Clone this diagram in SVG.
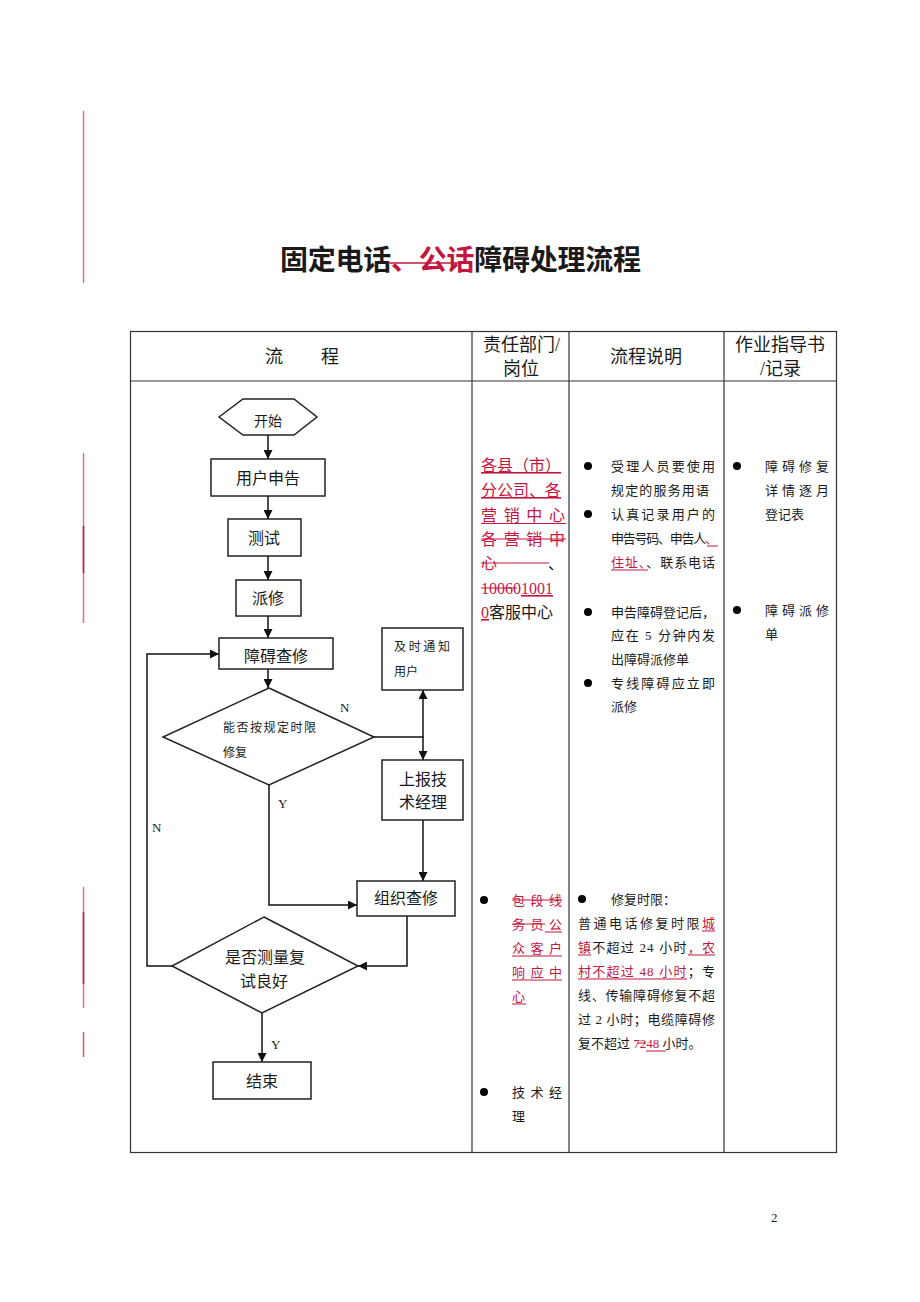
<svg xmlns="http://www.w3.org/2000/svg" width="920" height="1302" viewBox="0 0 920 1302">
<style>
text{font-family:"Liberation Serif","Noto Sans CJK SC",serif;fill:#1a1a1a}
.t{font-family:"Noto Sans CJK SC",sans-serif;font-weight:bold;font-size:28px}
.h{font-size:18px}
.f16{font-size:16px}
.f13{font-size:13px}
.f12{font-size:12px}
.red{fill:#c3173f}
.u{text-decoration:underline}
.box{fill:#fff;stroke:#222;stroke-width:1.5}
.tbl{fill:none;stroke:#333;stroke-width:1.2}
.con{fill:none;stroke:#111;stroke-width:1.5}
.mk{stroke:#c3173f;stroke-width:1.5}
.rl{stroke:#c3173f;stroke-width:1}
</style>
<defs>
<marker id="ah" viewBox="0 0 10 10" refX="10" refY="5" markerWidth="9" markerHeight="9" markerUnits="userSpaceOnUse" orient="auto"><path d="M0,0 L10,5 L0,10 z" fill="#111"/></marker>
</defs>
<rect width="920" height="1302" fill="#fff"/>
<g id="margin-marks">
<line class="mk" x1="83.5" y1="111" x2="83.5" y2="283" stroke-opacity="0.6"/>
<line class="mk" x1="83.5" y1="453" x2="83.5" y2="623" stroke-opacity="0.6"/>
<line class="mk" x1="83.5" y1="526" x2="83.5" y2="573"/>
<line class="mk" x1="83.5" y1="887" x2="83.5" y2="1008" stroke-opacity="0.6"/>
<line class="mk" x1="83.5" y1="912" x2="83.5" y2="984"/>
<line class="mk" x1="83.5" y1="1032" x2="83.5" y2="1057" stroke-opacity="0.7"/>
</g>
<g id="title">
<text class="t" x="280" y="270" textLength="361" lengthAdjust="spacing">固定电话<tspan class="red">、公话</tspan>障碍处理流程</text>
<line x1="388" y1="263" x2="471" y2="263" stroke="#c3173f" stroke-width="1.5"/>
</g>
<g id="table">
<rect class="tbl" x="130.5" y="331.5" width="706" height="821"/>
<line class="tbl" x1="130" y1="381" x2="837" y2="381" stroke-width="2"/>
<line class="tbl" x1="472" y1="331" x2="472" y2="1153"/>
<line class="tbl" x1="569" y1="331" x2="569" y2="1153"/>
<line class="tbl" x1="724" y1="331" x2="724" y2="1153"/>
<text class="h" x="265" y="363">流</text>
<text class="h" x="321" y="363">程</text>
<text class="h" x="483" y="351">责任部门/</text>
<text class="h" x="503" y="375">岗位</text>
<text class="h" x="610" y="363">流程说明</text>
<text class="h" x="735" y="351">作业指导书</text>
<text class="h" x="760" y="375">/记录</text>
</g>
<g id="connectors">
<path class="con" marker-end="url(#ah)" d="M268,435 V459"/>
<path class="con" marker-end="url(#ah)" d="M268,496 V519"/>
<path class="con" marker-end="url(#ah)" d="M268,556 V580"/>
<path class="con" marker-end="url(#ah)" d="M268,616 V638"/>
<path class="con" marker-end="url(#ah)" d="M268,669 V688"/>
<path class="con" marker-end="url(#ah)" d="M374,737 H423 V760"/>
<path class="con" marker-end="url(#ah)" d="M423,737 V690"/>
<path class="con" marker-end="url(#ah)" d="M423,820 V881"/>
<path class="con" marker-end="url(#ah)" d="M269,785 V905 H357"/>
<path class="con" marker-end="url(#ah)" d="M407,916 V966 H358"/>
<path class="con" marker-end="url(#ah)" d="M172,966 H147 V654 H219"/>
<path class="con" marker-end="url(#ah)" d="M262,1013 V1062"/>
<text class="f13" x="340" y="712">N</text>
<text class="f13" x="278" y="808">Y</text>
<text class="f13" x="152" y="832">N</text>
<text class="f13" x="271" y="1049">Y</text>
</g>
<g id="start">
<polygon class="box" points="219,417 243,399 294,399 317,417 294,435 243,435"/>
<text x="268" y="426" text-anchor="middle" style="font-size:14px">开始</text>
</g>
<g id="report">
<rect class="box" x="211" y="459" width="114" height="37"/>
<text class="f16" x="268" y="484" text-anchor="middle">用户申告</text>
</g>
<g id="test">
<rect class="box" x="228" y="519" width="73" height="37"/>
<text class="f16" x="264" y="544" text-anchor="middle">测试</text>
</g>
<g id="dispatch">
<rect class="box" x="236" y="580" width="65" height="36"/>
<text class="f16" x="268" y="604" text-anchor="middle">派修</text>
</g>
<g id="check">
<rect class="box" x="219" y="638" width="114" height="31"/>
<text class="f16" x="276" y="662" text-anchor="middle">障碍查修</text>
</g>
<g id="decision1">
<polygon class="box" points="269,688 374,737 269,785 163,737"/>
<text class="f12" x="223" y="732" textLength="93" lengthAdjust="spacing">能否按规定时限</text>
<text class="f12" x="223" y="757">修复</text>
</g>
<g id="notify">
<rect class="box" x="382" y="628" width="81" height="62"/>
<text class="f12" x="394" y="651" textLength="56" lengthAdjust="spacing">及时通知</text>
<text class="f12" x="394" y="676">用户</text>
</g>
<g id="escalate">
<rect class="box" x="382" y="760" width="81" height="60"/>
<text class="f16" x="423" y="785" text-anchor="middle">上报技</text>
<text class="f16" x="423" y="808" text-anchor="middle">术经理</text>
</g>
<g id="organize">
<rect class="box" x="357" y="881" width="98" height="35"/>
<text class="f16" x="406" y="904" text-anchor="middle">组织查修</text>
</g>
<g id="decision2">
<polygon class="box" points="264,917 358,966 262,1013 172,966"/>
<text class="f16" x="265" y="963" text-anchor="middle">是否测量复</text>
<text class="f16" x="264" y="987" text-anchor="middle">试良好</text>
</g>
<g id="end">
<rect class="box" x="213" y="1062" width="98" height="37"/>
<text class="f16" x="262" y="1087" text-anchor="middle">结束</text>
</g>
<g id="dept-upper">
<text class="f16 red u" x="481" y="471">各县（市）</text>
<text class="f16 red u" x="481" y="496">分公司、各</text>
<text class="f16 red" x="481" y="521" textLength="84" lengthAdjust="spacing">营销中心</text>
<line class="rl" x1="481" y1="523.5" x2="566" y2="523.5"/>
<text class="f16 red" x="481" y="545" textLength="84" lengthAdjust="spacing">各营销中</text>
<line class="rl" x1="481" y1="539" x2="566" y2="539"/>
<text class="f16 red" x="481" y="569">心</text>
<line class="rl" x1="481" y1="563" x2="549" y2="563"/>
<text class="f16" x="548" y="569">、</text>
<text class="f16 red" x="481" y="594">10060<tspan class="u">1001</tspan></text>
<line class="rl" x1="481" y1="588" x2="517" y2="588"/>
<text class="f16" x="481" y="618"><tspan class="red u">0</tspan>客服中心</text>
</g>
<g id="desc-upper">
<circle cx="588" cy="466" r="4"/>
<text class="f13" x="611" y="471" textLength="104" lengthAdjust="spacing">受理人员要使用</text>
<text class="f13" x="611" y="495" textLength="98" lengthAdjust="spacing">规定的服务用语</text>
<circle cx="588" cy="514" r="4"/>
<text class="f13" x="611" y="519" textLength="104" lengthAdjust="spacing">认真记录用户的</text>
<text class="f13" x="611" y="543" textLength="107" lengthAdjust="spacing">申告号码、申告人<tspan class="red">、</tspan></text>
<line class="rl" x1="707" y1="546" x2="718" y2="546"/>
<text class="f13" x="611" y="567" textLength="104" lengthAdjust="spacing"><tspan class="red">住址、</tspan>、联系电话</text>
<line class="rl" x1="611" y1="570" x2="648" y2="570"/>
<circle cx="588" cy="612" r="4"/>
<text class="f13" x="611" y="617" textLength="104" lengthAdjust="spacing">申告障碍登记后，</text>
<text class="f13" x="611" y="640" textLength="104" lengthAdjust="spacing">应在 5 分钟内发</text>
<text class="f13" x="611" y="664">出障碍派修单</text>
<circle cx="588" cy="683" r="4"/>
<text class="f13" x="611" y="688" textLength="104" lengthAdjust="spacing">专线障碍应立即</text>
<text class="f13" x="611" y="711">派修</text>
</g>
<g id="record-upper">
<circle cx="737" cy="466" r="4"/>
<text class="f13" x="765" y="471" textLength="64" lengthAdjust="spacing">障碍修复</text>
<text class="f13" x="765" y="495" textLength="64" lengthAdjust="spacing">详情逐月</text>
<text class="f13" x="765" y="519">登记表</text>
<circle cx="737" cy="610" r="4"/>
<text class="f13" x="765" y="615" textLength="64" lengthAdjust="spacing">障碍派修</text>
<text class="f13" x="765" y="639">单</text>
</g>
<g id="dept-lower">
<circle cx="484" cy="900" r="4"/>
<text class="f13 red" x="512" y="905" textLength="50" lengthAdjust="spacing">包段线</text>
<line class="rl" x1="512" y1="900" x2="562" y2="900"/>
<text class="f13 red" x="512" y="929" textLength="50" lengthAdjust="spacing">务员公</text>
<line class="rl" x1="512" y1="924" x2="545" y2="924"/>
<line class="rl" x1="545" y1="932" x2="562" y2="932"/>
<text class="f13 red" x="512" y="953" textLength="50" lengthAdjust="spacing">众客户</text>
<line class="rl" x1="512" y1="956" x2="562" y2="956"/>
<text class="f13 red" x="512" y="977" textLength="50" lengthAdjust="spacing">响应中</text>
<line class="rl" x1="512" y1="980" x2="562" y2="980"/>
<text class="f13 red" x="512" y="1001">心</text>
<line class="rl" x1="512" y1="1004" x2="526" y2="1004"/>
<circle cx="484" cy="1092" r="4"/>
<text class="f13" x="512" y="1097" textLength="50" lengthAdjust="spacing">技术经</text>
<text class="f13" x="512" y="1121">理</text>
</g>
<g id="desc-lower">
<circle cx="582" cy="899" r="4"/>
<text class="f13" x="611" y="904">修复时限：</text>
<text class="f13" x="578" y="928" textLength="137" lengthAdjust="spacing">普通电话修复时限<tspan class="red">城</tspan></text>
<line class="rl" x1="702" y1="931" x2="715" y2="931"/>
<text class="f13" x="578" y="952" textLength="137" lengthAdjust="spacing"><tspan class="red">镇</tspan>不超过 24 小时<tspan class="red">，农</tspan></text>
<line class="rl" x1="578" y1="955" x2="591" y2="955"/>
<line class="rl" x1="688" y1="955" x2="715" y2="955"/>
<text class="f13" x="578" y="976" textLength="137" lengthAdjust="spacing"><tspan class="red">村不超过 48 小时</tspan>；专</text>
<line class="rl" x1="578" y1="979" x2="687" y2="979"/>
<text class="f13" x="578" y="1000" textLength="137" lengthAdjust="spacing">线、传输障碍修复不超</text>
<text class="f13" x="578" y="1024" textLength="137" lengthAdjust="spacing">过 2 小时；电缆障碍修</text>
<text class="f13" x="578" y="1048">复不超过 <tspan class="red">72</tspan><tspan class="red">48 </tspan>小时。</text>
<line class="rl" x1="637" y1="1043" x2="646" y2="1043"/>
<line class="rl" x1="646" y1="1051" x2="666" y2="1051"/>
</g>
<text class="f13" x="771" y="1222">2</text>
</svg>
